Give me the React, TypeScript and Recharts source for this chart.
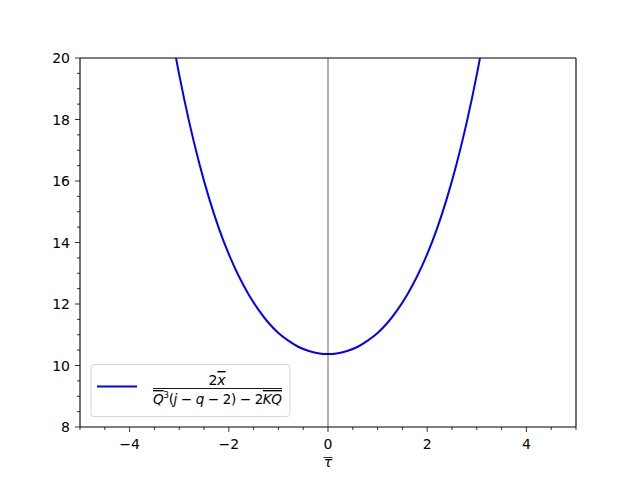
import React from 'react';
import { LineChart, Line, XAxis, YAxis, ReferenceLine } from 'recharts';

// curve (x = tau, y = value)
const tauValues = [
  -3.2, -3.0, -2.8, -2.6, -2.4, -2.2, -2.0, -1.8, -1.6, -1.4, -1.2, -1.0, -0.8, -0.6, -0.4, -0.2,
  0, 0.2, 0.4, 0.6, 0.8, 1.0, 1.2, 1.4, 1.6, 1.8, 2.0, 2.2, 2.4, 2.6, 2.8, 3.0, 3.2,
];
const curveValues = [
  21.2, 19.46, 17.93, 16.6, 15.45, 14.46, 13.62, 12.91, 12.31, 11.81, 11.39, 11.06, 10.81, 10.61, 10.48, 10.4,
  10.37, 10.4, 10.48, 10.61, 10.81, 11.06, 11.39, 11.81, 12.31, 12.91, 13.62, 14.46, 15.45, 16.6, 17.93, 19.46, 21.2,
];

const xTicks = [-5, -4.5, -4, -3.5, -3, -2.5, -2, -1.5, -1, -0.5, 0, 0.5, 1, 1.5, 2, 2.5, 3, 3.5, 4, 4.5, 5];
const xMajor = [-4, -2, 0, 2, 4];
const yTicks = [8, 8.5, 9, 9.5, 10, 10.5, 11, 11.5, 12, 12.5, 13, 13.5, 14, 14.5, 15, 15.5, 16, 16.5, 17, 17.5, 18, 18.5, 19, 19.5, 20];
const yMajor = [8, 10, 12, 14, 16, 18, 20];

const data = tauValues.map((t, i) => ({ tau: t, v: curveValues[i] }));

const FONT = '"DejaVu Sans", sans-serif';

const fmt = (v: number) => (v < 0 ? '\u2212' + Math.abs(v) : String(v));

// eslint-disable-next-line @typescript-eslint/no-explicit-any
function XTick(props: any) {
  const { x, y, payload } = props;
  const major = xMajor.includes(payload.value);
  return (
    <g>
      <line x1={x} x2={x} y1={y} y2={y + (major ? 5 : 3)} stroke="#000" strokeWidth={0.8} />
      {major && (
        <text x={x} y={y + 22} textAnchor="middle" fontSize={14} fontFamily={FONT} fill="#000">
          {fmt(payload.value)}
        </text>
      )}
    </g>
  );
}

// eslint-disable-next-line @typescript-eslint/no-explicit-any
function YTick(props: any) {
  const { x, y, payload } = props;
  const major = yMajor.includes(payload.value);
  return (
    <g>
      <line x1={x} x2={x - (major ? 5 : 3)} y1={y} y2={y} stroke="#000" strokeWidth={0.8} />
      {major && (
        <text x={x - 10} y={y + 5} textAnchor="end" fontSize={14} fontFamily={FONT} fill="#000">
          {payload.value}
        </text>
      )}
    </g>
  );
}

export default function App() {
  return (
    <div style={{ position: 'absolute', left: 0, top: 0, width: 640, height: 480, background: '#fff' }}>
      <LineChart width={640} height={480} data={data} margin={{ top: 58, right: 64, left: 0, bottom: 0 }}>
        <XAxis
          dataKey="tau"
          type="number"
          domain={[-5, 5]}
          ticks={xTicks}
          interval={0}
          tickSize={0}
          tickMargin={0}
          tickLine={false}
          tick={<XTick />}
          height={53}
          allowDataOverflow
          stroke="#000"
          strokeWidth={1.1}
        />
        <YAxis
          type="number"
          domain={[8, 20]}
          ticks={yTicks}
          interval={0}
          tickSize={0}
          tickMargin={0}
          tickLine={false}
          tick={<YTick />}
          width={80}
          allowDataOverflow
          stroke="#000"
          strokeWidth={1.1}
        />
        <ReferenceLine x={0} stroke="#b0b0b0" strokeWidth={2} />
        <ReferenceLine y={20} stroke="#000" strokeWidth={1.1} ifOverflow="visible" />
        <ReferenceLine x={5} stroke="#000" strokeWidth={1.1} ifOverflow="visible" />
        <Line dataKey="v" type="monotone" stroke="#0000ff" strokeWidth={2} dot={false} isAnimationActive={false} />
      </LineChart>
      <svg width={640} height={480} style={{ position: 'absolute', left: 0, top: 0, pointerEvents: 'none' }}>
        <rect x={91} y={364.5} width={199} height={52} rx={3} fill="#fff" fillOpacity={0.8} stroke="#d6d6d6" />
        <line x1={97} x2={137} y1={386.5} y2={386.5} stroke="#0000ff" strokeWidth={2} />
        <text x={217} y={385} textAnchor="middle" fontSize={14} fontFamily={FONT} fill="#000">
          2<tspan fontStyle="italic" style={{ textDecoration: 'overline' }}>x</tspan>
        </text>
        <line x1={153} x2={282} y1={388.5} y2={388.5} stroke="#000" strokeWidth={0.9} />
        <text x={153} y={404} fontSize={13.5} fontFamily={FONT} fill="#000" textLength={129} lengthAdjust="spacing">
          <tspan fontStyle="italic" style={{ textDecoration: 'overline' }}>Q</tspan>
          <tspan fontSize={9} dy={-6}>3</tspan>
          <tspan dy={6}>(</tspan>
          <tspan fontStyle="italic">j</tspan>
          <tspan> − </tspan>
          <tspan fontStyle="italic">q</tspan>
          <tspan> − 2) − 2</tspan>
          <tspan fontStyle="italic" style={{ textDecoration: 'overline' }}>KQ</tspan>
        </text>
        <text x={328} y={467} textAnchor="middle" fontSize={14} fontFamily={FONT} fontStyle="italic" fill="#000">
          τ
        </text>
        <line x1={323.5} x2={332.5} y1={457.5} y2={457.5} stroke="#000" strokeWidth={0.8} />
      </svg>
    </div>
  );
}
